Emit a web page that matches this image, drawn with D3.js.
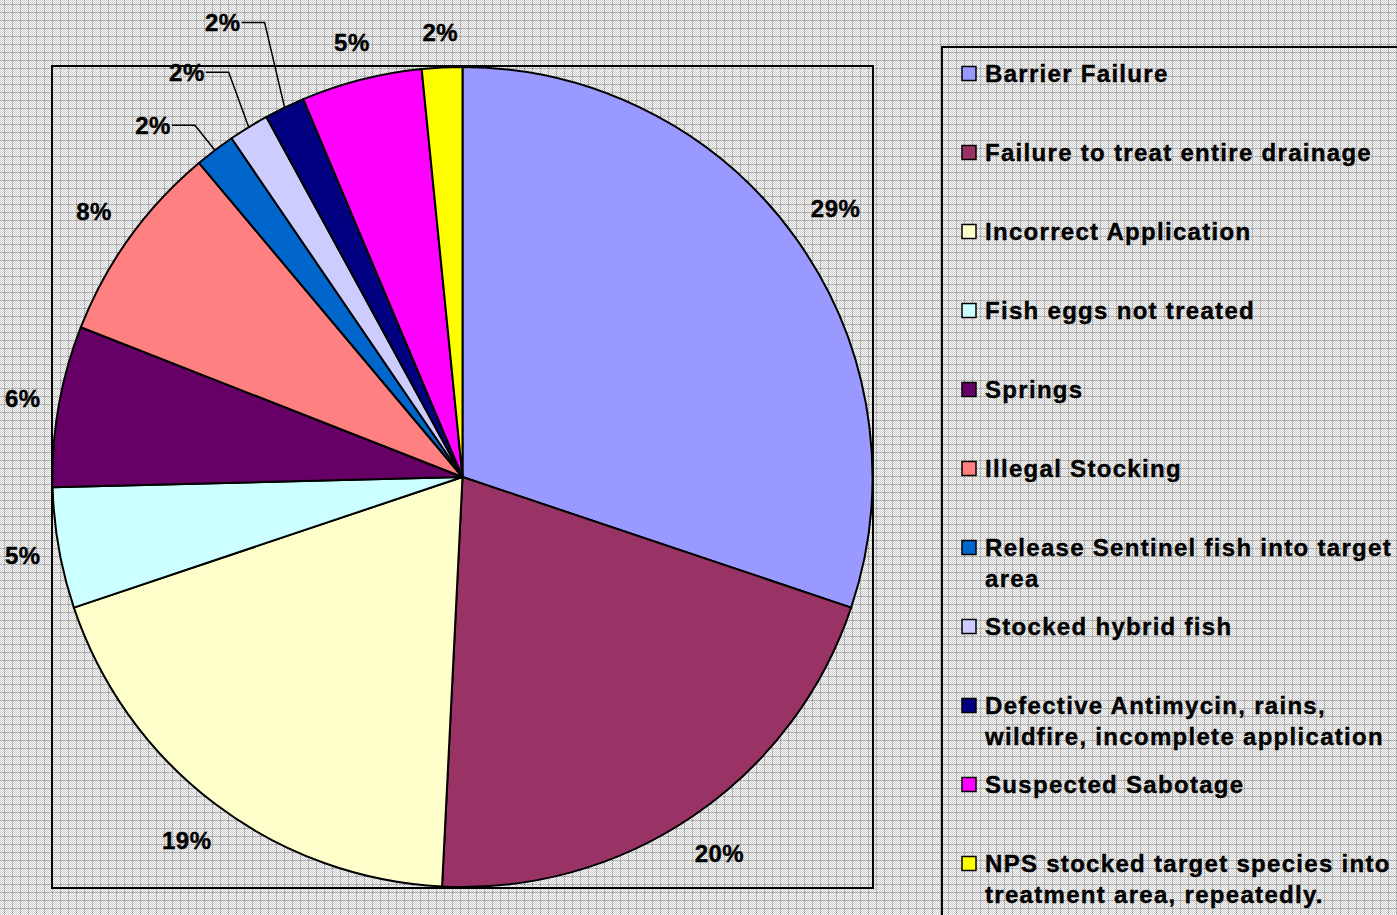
<!DOCTYPE html>
<html>
<head>
<meta charset="utf-8">
<script src="https://cdn.jsdelivr.net/npm/d3@7"></script>
<style>
    html, body { margin: 0; padding: 0; overflow: hidden; background: #fff; }
    svg text { font-family: "Liberation Sans", Arial, sans-serif; font-weight: bold; fill: #000; }
</style>
</head>
<body>
<svg id="chart" width="1397" height="915"></svg>
<script>
"use strict"

// Slices clockwise from 12 o'clock. Counts fit the slice angles (63 cases).
const causes = [
    "Barrier Failure",
    "Failure to treat entire drainage",
    "Incorrect Application",
    "Fish eggs not treated",
    "Springs",
    "Illegal Stocking",
    "Release Sentinel fish into target\narea",
    "Stocked hybrid fish",
    "Defective Antimycin, rains,\nwildfire, incomplete application",
    "Suspected Sabotage",
    "NPS stocked target species into\ntreatment area, repeatedly."
]
const counts = [19, 13, 12, 3, 4, 5, 1, 1, 1, 3, 1]
// Percent labels as printed on the original (they were rounded by hand there).
const pctLabels = ["29%", "20%", "19%", "5%", "6%", "8%", "2%", "2%", "2%", "5%", "2%"]
const colors = [
    "#9999FF", "#993366", "#FFFFCC", "#CCFFFF", "#660066", "#FF8080",
    "#0066CC", "#CCCCFF", "#000080", "#FF00FF", "#FFFF00"
]

const size = { width: 1397, height: 915 }
const plot = { left: 52, top: 66, right: 873, bottom: 888 }
const center = { x: (plot.left + plot.right) / 2, y: (plot.top + plot.bottom) / 2 }
const radius = 410
const fontSize = 24
// these three small slices got dragged-out labels with leader lines
const leaderIdx = [6, 7, 8]

const svg = d3.select("#chart")

// Excel-ish dithered grid background
const defs = svg.append("defs")
const chk = defs.append("pattern")
    .attr("id", "chk").attr("width", 2).attr("height", 2)
    .attr("patternUnits", "userSpaceOnUse")
chk.append("rect").attr("width", 2).attr("height", 2).attr("fill", "#ffffff")
chk.append("rect").attr("width", 1).attr("height", 1).attr("fill", "#c8c8c8")
chk.append("rect").attr("x", 1).attr("y", 1).attr("width", 1).attr("height", 1).attr("fill", "#c8c8c8")

const grid = defs.append("pattern")
    .attr("id", "grid").attr("width", 8).attr("height", 8)
    .attr("patternUnits", "userSpaceOnUse")
grid.append("rect").attr("width", 8).attr("height", 8).attr("fill", "url(#chk)")
grid.append("rect").attr("x", 0).attr("y", 4).attr("width", 8).attr("height", 1).attr("fill", "#bdbdbd")
grid.append("rect").attr("x", 4).attr("y", 0).attr("width", 1).attr("height", 8).attr("fill", "#bdbdbd")
grid.append("rect").attr("x", 4).attr("y", 4).attr("width", 1).attr("height", 1).attr("fill", "#808080")
grid.append("rect").attr("x", 0).attr("y", 4).attr("width", 1).attr("height", 1).attr("fill", "#9a9a9a")
grid.append("rect").attr("x", 4).attr("y", 0).attr("width", 1).attr("height", 1).attr("fill", "#9a9a9a")

svg.append("rect")
    .attr("width", size.width).attr("height", size.height)
    .attr("fill", "url(#grid)")

// plot area frame
svg.append("rect")
    .attr("x", plot.left).attr("y", plot.top)
    .attr("width", plot.right - plot.left).attr("height", plot.bottom - plot.top)
    .attr("fill", "none").attr("stroke", "#000").attr("stroke-width", 2)

const pie = d3.pie().sort(null).value(d => d)
const arcs = pie(counts)
const arc = d3.arc().innerRadius(0).outerRadius(radius)

const g = svg.append("g").attr("transform", `translate(${center.x},${center.y})`)

g.selectAll(".slice")
    .data(arcs)
    .enter()
    .append("path")
    .classed("slice", true)
    .attr("d", arc)
    .attr("fill", (d, i) => colors[i])
    .attr("stroke", "#000")
    .attr("stroke-width", 2)
    .attr("stroke-linejoin", "round")

const polar = (a, r) => ({ x: r * Math.sin(a), y: -r * Math.cos(a) })

// percentage labels
const labels = g.selectAll(".pct")
    .data(arcs)
    .enter()
    .append("text")
    .classed("pct", true)
    .style("font-size", fontSize + "px")
    .style("letter-spacing", "0.5px")
    .attr("stroke", "#000").attr("stroke-width", 0.4)
    .text((d, i) => pctLabels[i])

labels.each(function (d, i) {
    const a = (d.startAngle + d.endAngle) / 2
    const el = d3.select(this)
    const w = this.getComputedTextLength()
    const h = 22
    if (leaderIdx.includes(i)) {
        const k = leaderIdx.indexOf(i)
        const p = polar(a, radius)
        const elbow = { x: p.x - 20, y: p.y - 25 - 30 * k }
        const end = { x: elbow.x - 23, y: elbow.y }
        g.append("polyline")
            .attr("points", [p, elbow, end].map(q => `${q.x},${q.y}`).join(" "))
            .attr("fill", "none")
            .attr("stroke", "#000")
            .attr("stroke-width", 1.5)
        el.attr("text-anchor", "end")
            .attr("x", end.x - 1)
            .attr("y", end.y + fontSize * 0.35)
        return
    }
    const rc = radius + 23 + (w / 2) * Math.abs(Math.sin(a)) + (h / 2) * Math.abs(Math.cos(a))
    const p = polar(a, rc)
    // keep the label inside the chart area
    const minX = 5 + w / 2 - center.x
    p.x = Math.max(p.x, minX)
    el.attr("text-anchor", "middle")
        .attr("x", p.x)
        .attr("y", p.y + fontSize * 0.35)
})

// legend
const legend = { left: 942, top: 47, firstY: 73.5, step: 79, lineGap: 31.5 }
svg.append("rect")
    .attr("x", legend.left).attr("y", legend.top)
    .attr("width", size.width - legend.left + 20).attr("height", size.height)
    .attr("fill", "none").attr("stroke", "#000").attr("stroke-width", 2)

const items = svg.selectAll(".legend-item")
    .data(causes)
    .enter()
    .append("g")
    .classed("legend-item", true)
    .attr("transform", (d, i) => `translate(${legend.left}, ${legend.firstY + i * legend.step})`)

items.append("rect")
    .attr("x", 20).attr("y", -7)
    .attr("width", 14).attr("height", 14)
    .attr("fill", (d, i) => colors[i])
    .attr("stroke", "#000").attr("stroke-width", 1.5)

items.append("text")
    .style("font-size", fontSize + "px")
    .style("letter-spacing", "1.3px")
    .attr("stroke", "#000").attr("stroke-width", 0.4)
    .attr("x", 43)
    .attr("y", fontSize * 0.35)
    .selectAll("tspan")
    .data(d => d.split("\n"))
    .enter()
    .append("tspan")
    .attr("x", 43)
    .attr("dy", (d, i) => i === 0 ? 0 : legend.lineGap)
    .text(d => d)
</script>
</body>
</html>
